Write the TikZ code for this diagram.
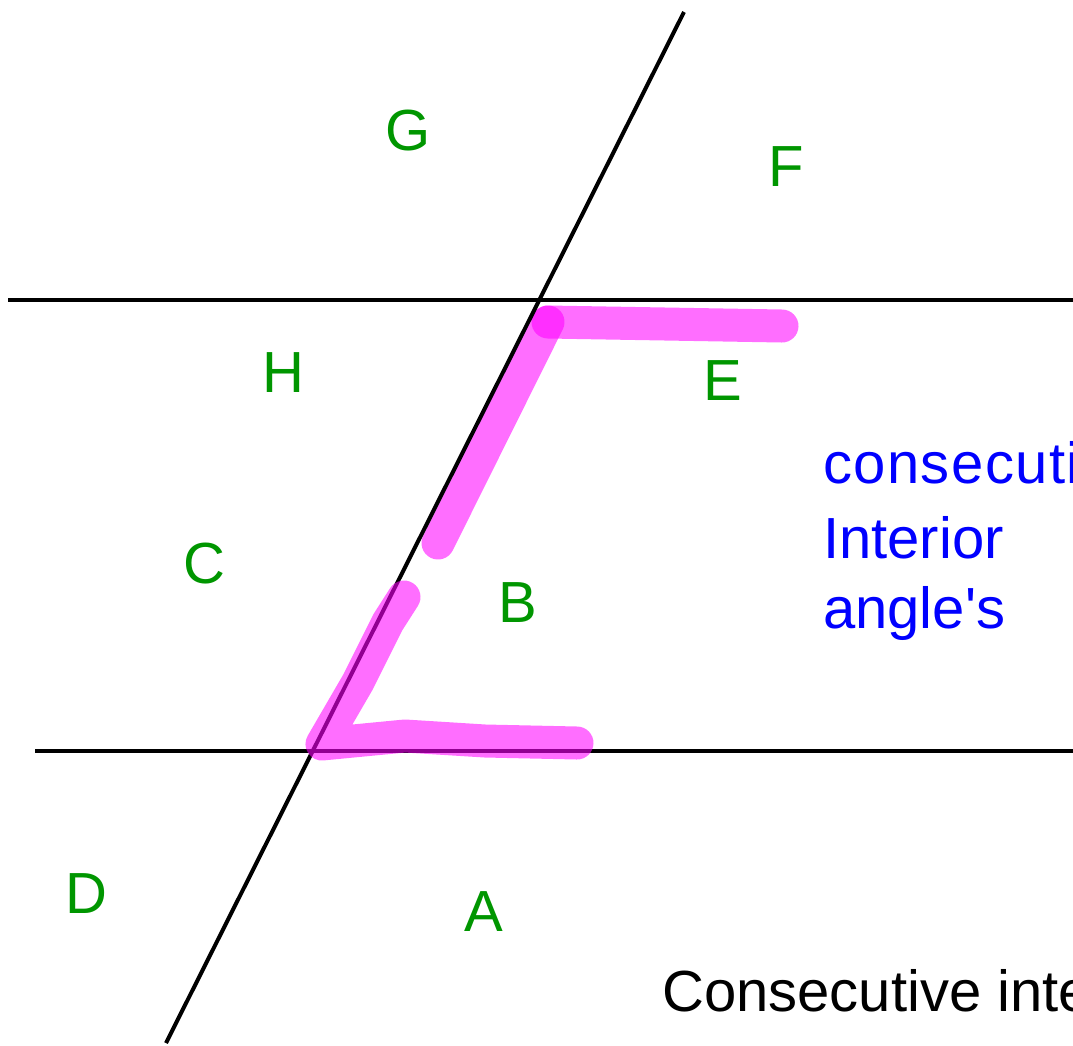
\documentclass[tikz,border=0pt]{standalone}
\usepackage{fontspec}
\setmainfont{Liberation Sans}
\definecolor{lblgreen}{RGB}{0,150,0}
\definecolor{txtblue}{RGB}{0,0,255}
\definecolor{pen}{RGB}{255,0,255}
\tikzset{
  blackline/.style={line width=4pt, black},
  hilite/.style={line width=33pt, pen, opacity=0.57, line cap=round, line join=round},
  lbl/.style={text=lblgreen, font=\fontsize{58}{70}\selectfont, inner sep=0pt, anchor=base},
  note/.style={font=\fontsize{58}{70}\selectfont, inner sep=0pt, anchor=base west}
}
\begin{document}
\begin{tikzpicture}[x=1pt,y=-1pt]
\useasboundingbox (0,0) rectangle (1073,1045);
\clip (0,0) rectangle (1073,1045);
\fill[white] (0,0) rectangle (1073,1045);
% line end points
\coordinate (u1) at (8,300);
\coordinate (u2) at (1080,300);
\coordinate (l1) at (35,751);
\coordinate (l2) at (1080,751);
\coordinate (t1) at (684,12);
\coordinate (t2) at (166,1043);
% highlight points
\coordinate (p1) at (548,322);
\coordinate (p2) at (782,326);
\coordinate (p3) at (438,543);
\coordinate (q1) at (404,597);
\coordinate (q2) at (388,622);
\coordinate (q3) at (358,682);
\coordinate (q4) at (322,744);
\coordinate (q5) at (405,736);
\coordinate (q6) at (485,741);
\coordinate (q7) at (577,743);
% upper highlight strokes
\draw[hilite] (p1) -- (p2);
\draw[hilite] (p1) -- (p3);
% black lines
\draw[blackline] (u1) -- (u2);
\draw[blackline] (l1) -- (l2);
\draw[blackline] (t1) -- (t2);
% lower highlight stroke
\draw[hilite] (q1) -- (q2) -- (q3) -- (q4) -- (q5) -- (q6) -- (q7);
% labels
\node[lbl] (G) at (408,150) {G};
\node[lbl] (F) at (786,186) {F};
\node[lbl] (H) at (283,392) {H};
\node[lbl] (E) at (723,400) {E};
\node[lbl] (C) at (204,583) {C};
\node[lbl] (B) at (518,622) {B};
\node[lbl] (D) at (86,913) {D};
\node[lbl] (A) at (484,931) {A};
% notes
\node[note, text=txtblue] (n1) at (823,483) {\addfontfeature{LetterSpace=2.5}consecutive};
\node[note, text=txtblue] (n2) at (823,558) {Interior};
\node[note, text=txtblue] (n3) at (823,628) {angle\textquotesingle s};
\node[note, text=black] (n4) at (662,1011) {Consecutive interior};
\end{tikzpicture}
\end{document}
